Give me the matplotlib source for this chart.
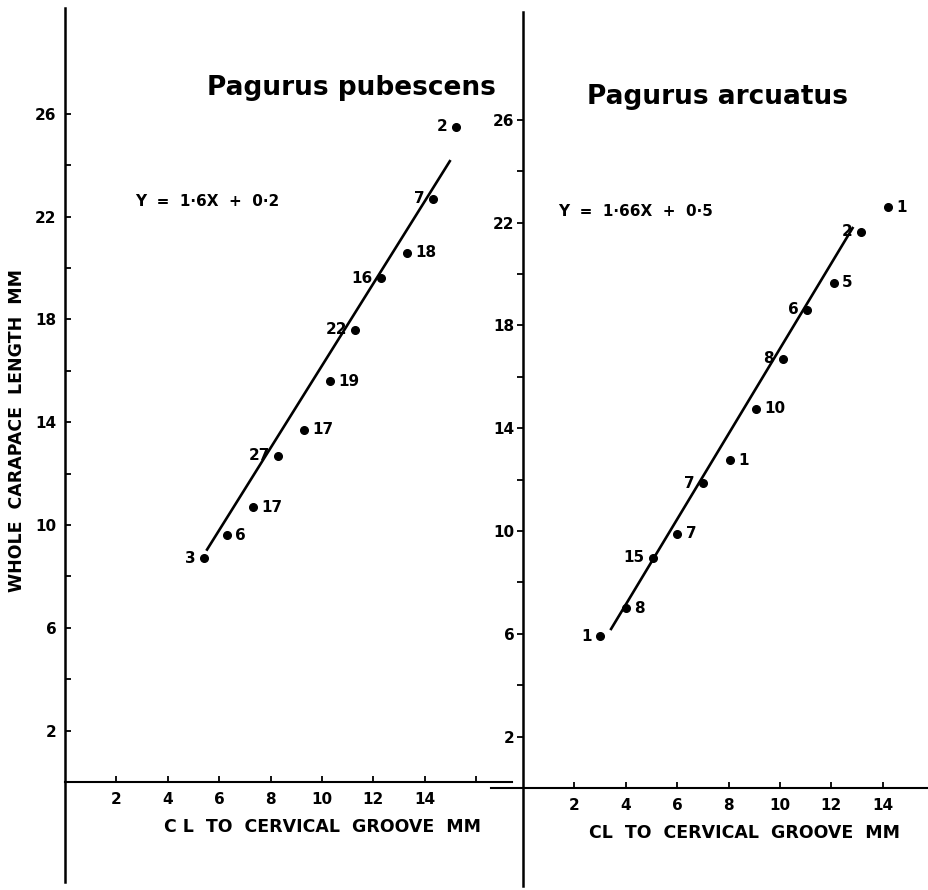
import matplotlib.pyplot as plt
import numpy as np

plt.rcParams['font.family'] = 'DejaVu Sans'
plt.rcParams['font.weight'] = 'bold'

# Pagurus pubescens: CL to cervical groove vs whole carapace length (mm), n per point
pub_x = [5.4, 6.3, 7.3, 8.3, 9.3, 10.3, 11.3, 12.3, 13.3, 14.3, 15.2]
pub_y = [8.7, 9.6, 10.7, 12.7, 13.7, 15.6, 17.6, 19.6, 20.6, 22.7, 25.5]
pub_n = [3, 6, 17, 27, 17, 19, 22, 16, 18, 7, 2]
pub_side = ['l', 'r', 'r', 'l', 'r', 'r', 'l', 'l', 'r', 'l', 'l']
pub_fit = (1.6, 0.2)
pub_fit_range = (5.5, 15.0)

# Pagurus arcuatus
arc_x = [3.0, 4.0, 5.05, 6.0, 7.0, 8.05, 9.05, 10.1, 11.05, 12.1, 13.15, 14.2]
arc_y = [5.9, 7.0, 8.95, 9.9, 11.85, 12.75, 14.75, 16.7, 18.6, 19.65, 21.65, 22.6]
arc_n = [1, 8, 15, 7, 7, 1, 10, 8, 6, 5, 2, 1]
arc_side = ['l', 'r', 'l', 'r', 'l', 'r', 'r', 'l', 'l', 'r', 'l', 'r']
arc_fit = (1.66, 0.5)
arc_fit_range = (3.4, 12.85)

y_major = [2, 6, 10, 14, 18, 22, 26]
y_minor = [4, 8, 12, 16, 20, 24]
x_major = [2, 4, 6, 8, 10, 12, 14]

W, H = 929, 890
fig = plt.figure(figsize=(W / 100, H / 100), dpi=100)


def px_axes(left, right, top, bottom):
    return fig.add_axes([left / W, (H - bottom) / H, (right - left) / W, (bottom - top) / H])


def setup(ax, xlim, ylim, tickdir, extra_xtick=None):
    ax.set_facecolor('none')
    ax.set_xlim(*xlim)
    ax.set_ylim(*ylim)
    for s in ('top', 'right'):
        ax.spines[s].set_visible(False)
    ax.spines['left'].set_position(('data', 0))
    ax.spines['bottom'].set_position(('data', 0))
    ax.spines['left'].set_linewidth(1.8)
    ax.spines['bottom'].set_linewidth(1.5)
    xt = list(x_major) + ([extra_xtick] if extra_xtick else [])
    ax.set_xticks(xt)
    ax.set_xticklabels([str(v) for v in x_major] + ([''] if extra_xtick else []))
    ax.set_yticks(y_major)
    ax.set_yticks(y_minor, minor=True)
    ax.tick_params(axis='x', direction='in', length=4, width=1.3, pad=7, labelsize=11)
    ax.tick_params(axis='y', which='both', direction=tickdir, length=4, width=1.3,
                   pad=6 if tickdir == 'in' else 2, labelsize=11)


def draw(ax, xs, ys, ns, sides, fit, rng):
    lx = np.array(rng)
    ax.plot(lx, fit[0] * lx + fit[1], color='black', lw=1.9, solid_capstyle='butt')
    ax.plot(xs, ys, 'o', color='black', ms=5.5)
    for x, y, n, s in zip(xs, ys, ns, sides):
        dx = -6 if s == 'l' else 6
        ax.annotate(str(n), (x, y), xytext=(dx, 0), textcoords='offset points',
                    ha='right' if s == 'l' else 'left', va='center',
                    fontsize=11, fontweight='bold')


k = 25.7
# left panel: origin at pixel (65, 782)
axl = px_axes(65, 512, 8, 882)
setup(axl, (0, (512 - 65) / k), (-(882 - 782) / k, (782 - 8) / k), 'in', extra_xtick=16)
draw(axl, pub_x, pub_y, pub_n, pub_side, pub_fit, pub_fit_range)

# right panel: origin at pixel (523, 788)
axr = px_axes(491, 929, 12, 886)
setup(axr, (-(523 - 491) / k, (929 - 523) / k), (-(886 - 788) / k, (788 - 12) / k), 'out')
draw(axr, arc_x, arc_y, arc_n, arc_side, arc_fit, arc_fit_range)

# titles and fitted equations
fig.text(351 / W, 1 - 88 / H, 'Pagurus pubescens', ha='center', va='center',
         fontsize=19, fontweight='bold')
fig.text(718 / W, 1 - 97 / H, 'Pagurus arcuatus', ha='center', va='center',
         fontsize=19, fontweight='bold')
fig.text(135 / W, 1 - 201 / H, 'Y  =  1·6X  +  0·2', ha='left', va='center',
         fontsize=11, fontweight='bold')
fig.text(558 / W, 1 - 211 / H, 'Y  =  1·66X  +  0·5', ha='left', va='center',
         fontsize=11, fontweight='bold')

# axis titles
fig.text(17 / W, 1 - 430 / H, 'WHOLE  CARAPACE  LENGTH  MM', rotation=90,
         ha='center', va='center', fontsize=12.5, fontweight='bold')
fig.text(323 / W, 1 - 827 / H, 'C L  TO  CERVICAL  GROOVE  MM', ha='center', va='center',
         fontsize=12.5, fontweight='bold')
fig.text(745 / W, 1 - 833 / H, 'CL  TO  CERVICAL  GROOVE  MM', ha='center', va='center',
         fontsize=12.5, fontweight='bold')

fig.savefig('out.png', dpi=100)
